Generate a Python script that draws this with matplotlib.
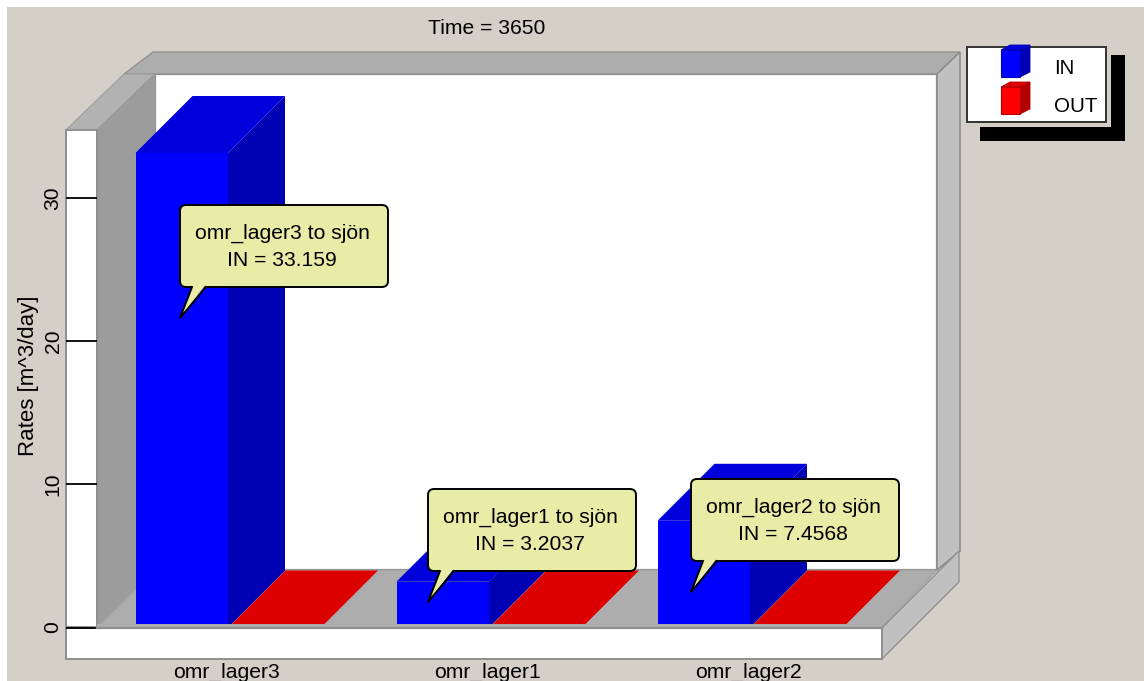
import matplotlib
matplotlib.use("Agg")
import matplotlib.pyplot as plt
from matplotlib.patches import Polygon, Rectangle, FancyBboxPatch

plt.rcParams['font.family'] = ['Liberation Sans', 'DejaVu Sans']

# data
categories = ["omr_lager3", "omr_lager1", "omr_lager2"]
in_rates = [33.159, 3.2037, 7.4568]
out_rates = [0, 0, 0]
y_ticks = [0, 10, 20, 30]
series_names = ["IN", "OUT"]
time_value = 3650

# pixel layout of the 3D box
W, H = 1144, 681
X0, X1 = 97, 882
Y0, YTOP = 627.5, 130
PX_PER_UNIT = 14.31
PX_PER_CAT = 261.0
XCENTER = 226.5
DEPTH = 57

BG = "#d4d0c8"
EDGE = "#8e8e8e"
FONT = 15.2

fig = plt.figure(figsize=(W / 100, H / 100), dpi=100, facecolor="white")


def pixel_axes(z):
    a = fig.add_axes([0, 0, 1, 1], zorder=z)
    a.set_xlim(0, W)
    a.set_ylim(H, 0)
    a.axis("off")
    return a


def poly(a, pts, color, edge=EDGE, lw=0.9):
    a.add_patch(Polygon(pts, closed=True, facecolor=color, edgecolor=edge, linewidth=lw))


back = pixel_axes(0)
back.add_patch(Rectangle((7, 7), W, H, facecolor=BG, edgecolor="none"))

# walls, floor and frame
poly(back, [(155, 74), (937, 74), (937, 570), (155, 570)], "white", lw=1.6)
poly(back, [(124, 74), (153, 52), (960, 52), (937, 74)], "#adadad")
poly(back, [(66, 130), (97, 130), (155, 74), (124, 74)], "#b2b2b2", edge="#a0a0a0")
poly(back, [(97, 130), (155, 74), (155, 570), (97, 627)], "#9c9c9c", edge="#9a9a9a")
poly(back, [(937, 74), (960, 52), (960, 551), (937, 570)], "#c0c0c0", lw=1.2)
poly(back, [(97, 627), (155, 570), (937, 570), (882, 627)], "#adadad", edge="#a0a0a0")
poly(back, [(882, 628), (959, 551), (959, 582), (882, 659)], "#c0c0c0")
poly(back, [(66, 130), (97, 130), (97, 627), (66, 627)], "white", lw=1.4)
poly(back, [(66, 628), (882, 628), (882, 659), (66, 659)], "white", lw=1.4)

# bars live on real rate / category scales
ax = fig.add_axes([X0 / W, 1 - Y0 / H, (X1 - X0) / W, (Y0 - YTOP) / H], zorder=1)
ax.patch.set_alpha(0)
ax.set_xlim((X0 - XCENTER) / PX_PER_CAT, (X1 - XCENTER) / PX_PER_CAT)
ax.set_ylim(0, (Y0 - YTOP) / PX_PER_UNIT)
for s in ax.spines.values():
    s.set_visible(False)

bar_w = 92.5 / PX_PER_CAT
dx = DEPTH / PX_PER_CAT
dy = DEPTH / PX_PER_UNIT
in_left = (135.5 - XCENTER) / PX_PER_CAT
out_left = (228.5 - XCENTER) / PX_PER_CAT


def bar3d(left, value, front, top, side):
    right = left + bar_w
    for pts, c in (
        ([(left, value), (right, value), (right + dx, value + dy), (left + dx, value + dy)], top),
        ([(right, 0), (right + dx, dy), (right + dx, value + dy), (right, value)], side),
    ):
        ax.add_patch(Polygon(pts, closed=True, facecolor=c, edgecolor="none", clip_on=False))
    if value > 0:
        ax.add_patch(Rectangle((left, 0), bar_w, value, facecolor=front, edgecolor="none", clip_on=False))


for i in range(len(categories)):
    bar3d(i + in_left, in_rates[i], "#0000ff", "#0000dc", "#0000b4")
    bar3d(i + out_left, out_rates[i], "#ff0000", "#dc0000", "#b40000")

# bars stop just behind the front lip of the floor
ax.axhspan(0, 3.5 / PX_PER_UNIT, facecolor="#adadad", edgecolor="none", zorder=5)
ax.axhline(0, color=EDGE, linewidth=1.6, zorder=6, clip_on=False)

ax.set_yticks(y_ticks)
ax.set_xticks(range(len(categories)))
ax.set_xticklabels(categories, fontsize=FONT)
ax.tick_params(axis="x", length=0, pad=25.5)
ax.tick_params(axis="y", length=22.3, width=1.3, pad=2.5, labelsize=FONT, color="black", zorder=7)
for t in ax.get_yticklabels():
    t.set_rotation(90)
    t.set_va("center")
ax.set_ylabel("Rates [m^3/day]", fontsize=16)
ax.yaxis.set_label_coords((39 - X0) / (X1 - X0), (Y0 - 376) / (Y0 - YTOP))

front = pixel_axes(2)
front.text(487, 29, "Time = %d" % time_value, ha="center", va="center", fontsize=FONT)

# value callouts
callout_boxes = [(180, 205), (428, 489), (691, 479)]
BOX_W, BOX_H = 208, 82
for name, val, (bx, by) in zip(categories, in_rates, callout_boxes):
    front.add_patch(FancyBboxPatch((bx + 5, by + 5), BOX_W - 10, BOX_H - 10,
                                   boxstyle="round,pad=5,rounding_size=6",
                                   facecolor="#e8eca6", edgecolor="black", linewidth=1.4))
    poly(front, [(bx + 12.5, by + BOX_H - 2), (bx, by + BOX_H + 31), (bx + 25.5, by + BOX_H - 2)],
         "#e8eca6", edge="none", lw=0)
    front.plot([bx + 12, bx, bx + 26], [by + BOX_H, by + BOX_H + 31, by + BOX_H],
               color="black", linewidth=1.4)
    front.text(bx + BOX_W / 2 - 2, by + 28, name + " to sjön", ha="center", va="center", fontsize=FONT)
    front.text(bx + BOX_W / 2 - 2, by + 55, "IN = " + str(val), ha="center", va="center", fontsize=FONT)

# legend with its drop shadow
front.add_patch(Rectangle((1111, 55), 14, 86, facecolor="black", edgecolor="none"))
front.add_patch(Rectangle((980, 127), 145, 14, facecolor="black", edgecolor="none"))
front.add_patch(Rectangle((967, 47), 139, 75, facecolor="white", edgecolor="#333333", linewidth=1.4))

legend_swatches = [(50, "#0000ff", "#0000dc", "#0000b4"), (87, "#ff0000", "#dc0000", "#b40000")]
for name, (top_y, c_front, c_top, c_side) in zip(series_names, legend_swatches):
    h = 27
    poly(front, [(1001, top_y), (1010, top_y - 5), (1030, top_y - 5), (1020, top_y)], c_top, edge=c_side, lw=0.6)
    poly(front, [(1020, top_y), (1030, top_y - 5), (1030, top_y + h - 5), (1020, top_y + h)], c_side, edge=c_side, lw=0.6)
    poly(front, [(1001, top_y), (1020, top_y), (1020, top_y + h), (1001, top_y + h)], c_front, edge=c_side, lw=0.8)
    front.text(1054, top_y + 17, name, ha="left", va="center_baseline", fontsize=14.8)

fig.savefig("out.png", dpi=100, facecolor="white")
